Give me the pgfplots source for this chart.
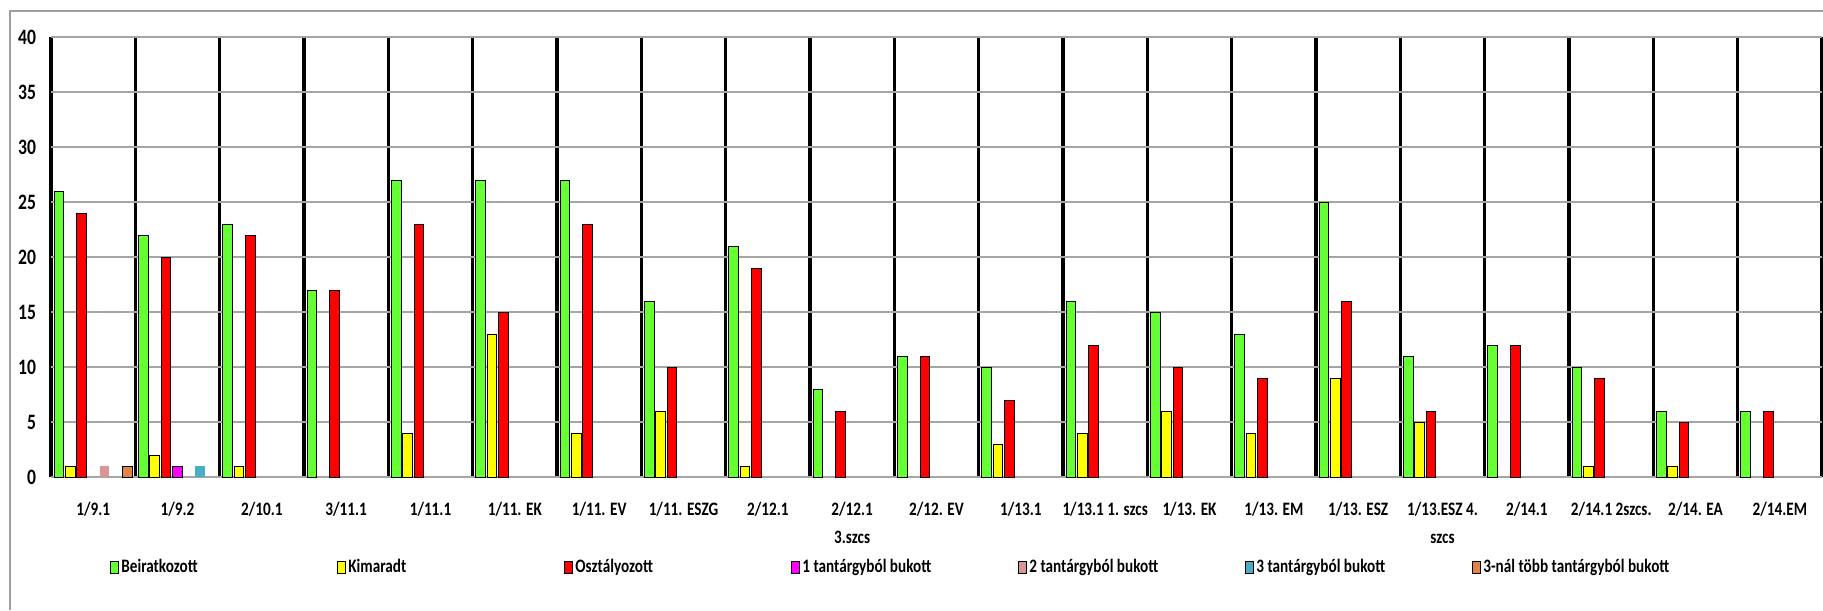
\documentclass[border=0pt]{standalone}
\usepackage{fontspec}
\setmainfont{Carlito}[FakeStretch=0.8]
\usepackage{pgfplots}
\pgfplotsset{compat=1.18}
\definecolor{cGreen}{RGB}{102,255,51}
\definecolor{cYellow}{RGB}{255,255,0}
\definecolor{cRed}{RGB}{255,0,0}
\definecolor{cMagenta}{RGB}{255,0,255}
\definecolor{cPink}{RGB}{217,150,148}
\definecolor{cTeal}{RGB}{75,172,198}
\definecolor{cOrange}{RGB}{226,132,66}
\definecolor{gridgray}{RGB}{165,165,165}

\pgfplotsset{
  sq/.style={area legend,
    legend image code/.code={\draw[##1,line width=0.5pt] (0pt,-3pt) rectangle (4pt,3pt);}},
}
\newcommand{\legbox}[1]{\makebox[107pt][l]{#1}}

\begin{document}
\begin{tikzpicture}
\path[use as bounding box] (0,0) rectangle (911.5pt,305pt);
\draw[gray!75, line width=0.8pt] (5pt,0) -- (5pt,299.5pt) -- (911.5pt,299.5pt);
\begin{axis}[
    at={(25.5pt,66.5pt)}, anchor=south west,
    scale only axis, width=885.5pt, height=220pt,
    ymin=0, ymax=40, ytick={0,5,...,40},
    xmin=-0.5, xmax=20.5,
    xtick={0,...,20},
    xticklabels={1/9.1,1/9.2,2/10.1,3/11.1,1/11.1,1/11. EK,1/11. EV,1/11. ESZG,2/12.1,{2/12.1\\3.szcs},2/12. EV,1/13.1,1/13.1 1. szcs,1/13. EK,1/13. EM,1/13. ESZ,{1/13.ESZ 4.\\szcs},2/14.1,2/14.1 2szcs.,2/14. EA,2/14.EM},
    minor xtick={-0.5,0.5,...,20.5},
    xminorgrids=true, ymajorgrids=true,
    minor x grid style={black, line width=1.7pt},
    major y grid style={gridgray, line width=1.1pt},
    axis line style={draw=none},
    major tick length=0pt, minor tick length=0pt,
    /pgf/number format/assume math mode=true,
    yticklabel style={font=\bfseries\fontsize{11}{13}\selectfont, xshift=-4pt},
    xticklabel style={font=\bfseries\fontsize{9.5}{14}\selectfont, align=center, anchor=north, yshift=-9pt},
    ybar=0.85pt, bar width=4.85pt,
    legend columns=7,
    legend style={at={(0.0333,-0.205)}, anchor=west, draw=none, fill=none,
      inner sep=0pt, font=\bfseries\fontsize{9.5}{11}\selectfont,
      /tikz/every even column/.append style={column sep=0pt},
      nodes={inner sep=1pt}},
    legend cell align=left,
]
\addplot[sq, fill=cGreen, draw=black, line width=0.5pt] coordinates {
  (0,26) (1,22) (2,23) (3,17) (4,27) (5,27) (6,27) (7,16) (8,21) (9,8) (10,11)
  (11,10) (12,16) (13,15) (14,13) (15,25) (16,11) (17,12) (18,10) (19,6) (20,6)};
\addplot[sq, fill=cYellow, draw=black, line width=0.5pt] coordinates {
  (0,1) (1,2) (2,1) (4,4) (5,13) (6,4) (7,6) (8,1) (11,3) (12,4) (13,6) (14,4)
  (15,9) (16,5) (18,1) (19,1)};
\addplot[sq, fill=cRed, draw=black, line width=0.5pt] coordinates {
  (0,24) (1,20) (2,22) (3,17) (4,23) (5,15) (6,23) (7,10) (8,19) (9,6) (10,11)
  (11,7) (12,12) (13,10) (14,9) (15,16) (16,6) (17,12) (18,9) (19,5) (20,6)};
\addplot[sq, fill=cMagenta, draw=black, line width=0.5pt] coordinates {(1,1)};
\addplot[sq, fill=cPink, draw=none] coordinates {(0,1)};
\addplot[sq, fill=cTeal, draw=none] coordinates {(1,1)};
\addplot[sq, fill=cOrange, draw=black, line width=0.5pt] coordinates {(0,1)};
\legend{\legbox{Beiratkozott},\legbox{Kimaradt},\legbox{Osztályozott},\legbox{1 tantárgyból bukott},\legbox{2 tantárgyból bukott},\legbox{3 tantárgyból bukott},3-nál több tantárgyból bukott}
\end{axis}
\end{tikzpicture}
\end{document}
